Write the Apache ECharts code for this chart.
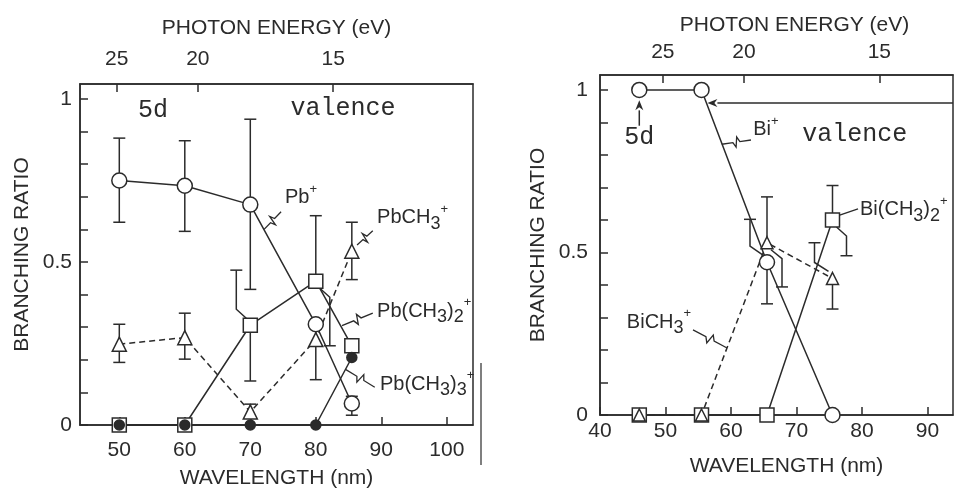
<!DOCTYPE html>
<html>
<head>
<meta charset="utf-8">
<script src="https://cdn.jsdelivr.net/npm/echarts@6/dist/echarts.min.js"></script>
<style>
  html, body { margin: 0; padding: 0; background: #fff; }
  #chart { width: 955px; height: 494px; }
</style>
</head>
<body>
<div id="chart"></div>
<script>
// hc in eV·nm, used to convert wavelength <-> photon energy
const HC = 1239.84;

// ---------- Pb(CH3)4 fragments ----------
const pbWavelength = [50, 60, 70, 80, 85.5];
const pbIon = [0.75, 0.734, 0.676, 0.309, 0.066];                 // Pb+
const pbIonErr = [[0.622, 0.88], [0.594, 0.872], [0.416, 0.938], [0.139, null], [0.03, 0.088]];
const pbMethyl = [0.248, 0.268, 0.04, 0.262, 0.533];               // PbCH3+
const pbMethylErr = [[0.192, 0.309], [0.202, 0.343], [null, 0.064], [null, null], [0.446, 0.622]];
const pbDimethyl = [0, 0, 0.306, 0.441, 0.243];                   // Pb(CH3)2+
const pbDimethylErr = [[null, null], [null, null], [0.135, 0.475], [0.243, 0.642], [null, null]];
const pbTrimethyl = [0, 0, 0, 0, 0.207];                          // Pb(CH3)3+

// ---------- Bi(CH3)3 fragments ----------
const biWavelength = [46, 55.5, 65.5, 75.5];
const biIon = [1, 1, 0.47, 0];                                    // Bi+
const biIonErr = [[null, null], [null, null], [0.342, 0.602], [null, null]];
const biMethyl = [0, 0, 0.53, 0.42];                              // BiCH3+
const biMethylErr = [[null, null], [null, null], [0.394, 0.671], [0.326, 0.53]];
const biDimethyl = [0, 0, 0, 0.6];                                // Bi(CH3)2+
const biDimethylErr = [[null, null], [null, null], [null, null], [0.49, 0.706]];

// ---------- tick labels ----------
const pbWavelengthTicks = [50, 60, 70, 80, 90, 100];
const biWavelengthTicks = [40, 50, 60, 70, 80, 90];
const energyTicks = [25, 20, 15];
const ratioTicks = [0, 0.1, 0.2, 0.3, 0.4, 0.5, 0.6, 0.7, 0.8, 0.9, 1];
const ratioLabels = [0, 0.5, 1];

// ---------- drawing style ----------
const INK = '#2b2b2b';
const SANS = '"Liberation Sans", Arial, sans-serif';
const MONO = '"Liberation Mono", "DejaVu Sans Mono", monospace';
const AXIS_FONT = 21;

// horizontal dodge (px) for the lower / upper half of crowded error bars
const barDodge = {
  pbIon:      [[0, 0], [0, 0], [0, 0], [0, 0], [0, 0]],
  pbMethyl:   [[0, 0], [0, 0], [0, 0], [0, 0], [0, 0]],
  pbDimethyl: [[0, 0], [0, 0], [0, -14], [14, 0], [0, 0]],
  biIon:      [[0, 0], [0, 0], [0, -17], [0, 0]],
  biMethyl:   [[0, 0], [0, 0], [15, 0], [0, -18]],
  biDimethyl: [[0, 0], [0, 0], [0, 0], [14, 0]]
};

function errorRows(xs, ys, errs, dodge) {
  const rows = [];
  xs.forEach((x, i) => {
    const [lo, hi] = errs[i];
    if (lo == null && hi == null) return;
    rows.push([x, ys[i], lo == null ? ys[i] : lo, hi == null ? ys[i] : hi, dodge[i][0], dodge[i][1]]);
  });
  return rows;
}

function renderErrorBar(params, api) {
  const x = api.value(0), v = api.value(1);
  const c = api.coord([x, v]);
  const children = [];
  [[api.value(2), api.value(4), 1], [api.value(3), api.value(5), -1]].forEach(([end, shift, dir]) => {
    if (!isFinite(end) || Math.abs(end - v) < 1e-9) return;
    const e = api.coord([x, end]);
    const bx = c[0] + shift;
    const pts = shift === 0
      ? [[c[0], c[1]], [bx, e[1]]]
      : [[c[0] + Math.sign(shift) * 4, c[1] + dir * 7], [bx, c[1] + dir * 16], [bx, e[1]]];
    children.push({ type: 'polyline', shape: { points: pts },
      style: { stroke: INK, lineWidth: 1.5, fill: null } });
    children.push({ type: 'line', shape: { x1: bx - 6, y1: e[1], x2: bx + 6, y2: e[1] },
      style: { stroke: INK, lineWidth: 1.5 } });
  });
  return { type: 'group', children };
}

function errorSeries(rows, xi, yi) {
  return { type: 'custom', xAxisIndex: xi, yAxisIndex: yi, data: rows,
    encode: { x: 0, y: 1 }, renderItem: renderErrorBar, silent: true, z: 1, clip: false };
}

function lineSeries(xs, ys, dashed, xi, yi) {
  return { type: 'line', xAxisIndex: xi, yAxisIndex: yi,
    data: xs.map((x, i) => [x, ys[i]]), showSymbol: false, silent: true, z: 2,
    lineStyle: { color: INK, width: 1.5, type: dashed ? [6, 4] : 'solid' }, clip: false };
}

function markerSeries(xs, ys, symbol, size, filled, xi, yi, z) {
  return { type: 'scatter', xAxisIndex: xi, yAxisIndex: yi,
    data: xs.map((x, i) => [x, ys[i]]), symbol, symbolSize: size, silent: true, z: z,
    itemStyle: { color: filled ? INK : '#fff', borderColor: INK, borderWidth: 1.5, opacity: 1 }, clip: false };
}

function wavelengthAxis(grid, min, max, ticks, margin, gap, pad) {
  return {
    type: 'value', gridIndex: grid, position: 'bottom', min, max,
    name: 'WAVELENGTH (nm)', nameLocation: 'middle', nameGap: gap,
    nameTextStyle: { fontFamily: SANS, fontSize: AXIS_FONT, color: INK, padding: [0, 0, 0, pad] },
    axisLine: { show: true, lineStyle: { color: INK, width: 1.5 } },
    axisTick: { show: true, inside: true, length: 8, customValues: ticks, lineStyle: { color: INK, width: 1.5 } },
    axisLabel: { customValues: ticks, margin, fontFamily: SANS, fontSize: AXIS_FONT, color: INK },
    splitLine: { show: false }
  };
}

function energyAxis(grid, min, max, margin, gap, pad) {
  const at = energyTicks.map(e => HC / e);
  return {
    type: 'value', gridIndex: grid, position: 'top', min, max,
    name: 'PHOTON ENERGY (eV)', nameLocation: 'middle', nameGap: gap,
    nameTextStyle: { fontFamily: SANS, fontSize: AXIS_FONT, color: INK, padding: [0, 0, 0, pad] },
    axisLine: { show: true, lineStyle: { color: INK, width: 1.5 } },
    axisTick: { show: true, inside: true, length: 8, customValues: at, lineStyle: { color: INK, width: 1.5 } },
    axisLabel: { customValues: at, margin, fontFamily: SANS, fontSize: AXIS_FONT, color: INK,
      formatter: v => String(Math.round(HC / v)) },
    splitLine: { show: false }
  };
}

function ratioAxis(grid, margin, gap) {
  return {
    type: 'value', gridIndex: grid, min: 0, max: 1.046,
    name: 'BRANCHING RATIO', nameLocation: 'middle', nameGap: gap, nameRotate: 90,
    nameTextStyle: { fontFamily: SANS, fontSize: AXIS_FONT, color: INK },
    axisLine: { show: true, lineStyle: { color: INK, width: 1.5 } },
    axisTick: { show: true, inside: true, length: 8, customValues: ratioTicks, lineStyle: { color: INK, width: 1.5 } },
    axisLabel: { customValues: ratioLabels, margin, fontFamily: SANS, fontSize: AXIS_FONT, color: INK,
      formatter: v => String(v) },
    splitLine: { show: false }
  };
}

const chart = echarts.init(document.getElementById('chart'), null, { renderer: 'canvas' });

const frame = { show: true, borderColor: INK, borderWidth: 1.5, backgroundColor: 'transparent' };

chart.setOption({
  animation: false,
  backgroundColor: '#fff',
  grid: [
    Object.assign({ left: 80, top: 84, width: 393, height: 342 }, frame),
    Object.assign({ left: 600, top: 75, width: 353, height: 340 }, frame)
  ],
  xAxis: [
    wavelengthAxis(0, 44, 104, pbWavelengthTicks, 15, 43, 0),
    energyAxis(0, 44, 104, 14, 45, 0),
    wavelengthAxis(1, 40, 93.9, biWavelengthTicks, 6, 41, 20),
    energyAxis(1, 40, 93.9, 12, 39, 36)
  ],
  yAxis: [ratioAxis(0, 8, 47), ratioAxis(1, 12, 51)],
  series: [
    // Pb panel
    errorSeries(errorRows(pbWavelength, pbIon, pbIonErr, barDodge.pbIon), 0, 0),
    errorSeries(errorRows(pbWavelength, pbMethyl, pbMethylErr, barDodge.pbMethyl), 0, 0),
    errorSeries(errorRows(pbWavelength, pbDimethyl, pbDimethylErr, barDodge.pbDimethyl), 0, 0),
    lineSeries(pbWavelength, pbIon, false, 0, 0),
    lineSeries(pbWavelength, pbMethyl, true, 0, 0),
    lineSeries(pbWavelength, pbDimethyl, false, 0, 0),
    lineSeries(pbWavelength, pbTrimethyl, false, 0, 0),
    markerSeries(pbWavelength, pbDimethyl, 'rect', 14, false, 0, 0, 3),
    markerSeries(pbWavelength, pbTrimethyl, 'circle', 10, true, 0, 0, 4),
    markerSeries(pbWavelength, pbMethyl, 'triangle', 14, false, 0, 0, 5),
    markerSeries(pbWavelength, pbIon, 'circle', 15, false, 0, 0, 6),
    // Bi panel
    errorSeries(errorRows(biWavelength, biIon, biIonErr, barDodge.biIon), 2, 1),
    errorSeries(errorRows(biWavelength, biMethyl, biMethylErr, barDodge.biMethyl), 2, 1),
    errorSeries(errorRows(biWavelength, biDimethyl, biDimethylErr, barDodge.biDimethyl), 2, 1),
    lineSeries(biWavelength, biIon, false, 2, 1),
    lineSeries(biWavelength, biMethyl, true, 2, 1),
    lineSeries(biWavelength, biDimethyl, false, 2, 1),
    markerSeries(biWavelength, biDimethyl, 'rect', 14, false, 2, 1, 3),
    markerSeries(biWavelength, biMethyl, 'triangle', 12, false, 2, 1, 4),
    markerSeries(biWavelength, biIon, 'circle', 15, false, 2, 1, 5)
  ]
});

// ---------- annotations (anchored in data coordinates) ----------
const pbPx = p => chart.convertToPixel({ xAxisIndex: 0, yAxisIndex: 0 }, p);
const biPx = p => chart.convertToPixel({ xAxisIndex: 2, yAxisIndex: 1 }, p);

const rich = {
  n:   { fontSize: 20, fontFamily: SANS, fill: INK, lineHeight: 30, verticalAlign: 'middle' },
  sub: { fontSize: 18, fontFamily: SANS, fill: INK, lineHeight: 18, verticalAlign: 'bottom' },
  sup: { fontSize: 13, fontFamily: SANS, fill: INK, lineHeight: 12, verticalAlign: 'top' }
};

function formula(text, p) {
  return { type: 'text', x: p[0], y: p[1], z: 10, silent: true,
    style: { text, rich, align: 'left', verticalAlign: 'middle' } };
}
function mono(text, p) {
  return { type: 'text', x: p[0], y: p[1], z: 10, silent: true,
    style: { text, fontFamily: MONO, fontSize: 25, fill: INK, align: 'center', verticalAlign: 'middle' } };
}
function zigzag(a, b) {
  const dx = b[0] - a[0], dy = b[1] - a[1], L = Math.hypot(dx, dy);
  const ux = dx / L, uy = dy / L, nx = -uy, ny = ux;
  const at = t => [a[0] + dx * t, a[1] + dy * t];
  const m = at(0.5);
  return { type: 'polyline', z: 10, silent: true,
    shape: { points: [a, at(0.38), [m[0] + nx * 5 - ux, m[1] + ny * 5 - uy],
      [m[0] - nx * 5 + ux, m[1] - ny * 5 + uy], at(0.62), b] },
    style: { stroke: INK, lineWidth: 1.3, fill: null } };
}
function arrow(from, tip) {
  const dx = tip[0] - from[0], dy = tip[1] - from[1], L = Math.hypot(dx, dy);
  const ux = dx / L, uy = dy / L, nx = -uy, ny = ux;
  const base = [tip[0] - ux * 10, tip[1] - uy * 10];
  return [
    { type: 'line', z: 10, silent: true, shape: { x1: from[0], y1: from[1], x2: base[0], y2: base[1] },
      style: { stroke: INK, lineWidth: 1.5 } },
    { type: 'polygon', z: 10, silent: true,
      shape: { points: [tip, [base[0] + nx * 4, base[1] + ny * 4], [tip[0] - ux * 7, tip[1] - uy * 7],
        [base[0] - nx * 4, base[1] - ny * 4]] },
      style: { fill: INK } }
  ];
}

chart.setOption({
  graphic: [
    // Pb panel
    mono('5d', pbPx([55.15, 0.966])),
    mono('valence', pbPx([84.15, 0.972])),
    formula('{n|Pb}{sup|+}', pbPx([75.3, 0.697])),
    zigzag(pbPx([74.7, 0.654]), pbPx([72.1, 0.6])),
    formula('{n|PbCH}{sub|3}{sup|+}', pbPx([89.35, 0.636])),
    zigzag(pbPx([88.7, 0.596]), pbPx([86.3, 0.552])),
    formula('{n|Pb(CH}{sub|3}{n|)}{sub|2}{sup|+}', pbPx([89.35, 0.349])),
    zigzag(pbPx([88.7, 0.343]), pbPx([84.0, 0.305])),
    formula('{n|Pb(CH}{sub|3}{n|)}{sub|3}{sup|+}', pbPx([89.8, 0.125])),
    zigzag(pbPx([89.0, 0.116]), pbPx([84.6, 0.17])),
    // Bi panel
    mono('5d', biPx([46, 0.855])),
    ...arrow(biPx([46, 0.89]), biPx([46, 0.968])),
    mono('valence', biPx([78.9, 0.862])),
    ...arrow(biPx([93.9, 0.96]), biPx([56.4, 0.96])),
    formula('{n|Bi}{sup|+}', biPx([63.4, 0.877])),
    zigzag(biPx([63.05, 0.846]), biPx([58.6, 0.833])),
    formula('{n|BiCH}{sub|3}{sup|+}', biPx([44.1, 0.286])),
    zigzag(biPx([54.2, 0.262]), biPx([59.4, 0.206])),
    formula('{n|Bi(CH}{sub|3}{n|)}{sub|2}{sup|+}', biPx([79.7, 0.631])),
    { type: 'line', z: 10, silent: true,
      shape: (() => { const a = biPx([76.6, 0.615]), b = biPx([79.4, 0.634]);
        return { x1: a[0], y1: a[1], x2: b[0], y2: b[1] }; })(),
      style: { stroke: INK, lineWidth: 1.3 } },
    // page edge between the two panels
    { type: 'line', z: 10, silent: true, shape: { x1: 481, y1: 363, x2: 481, y2: 465 },
      style: { stroke: '#555', lineWidth: 1.5 } }
  ]
});
</script>
</body>
</html>
